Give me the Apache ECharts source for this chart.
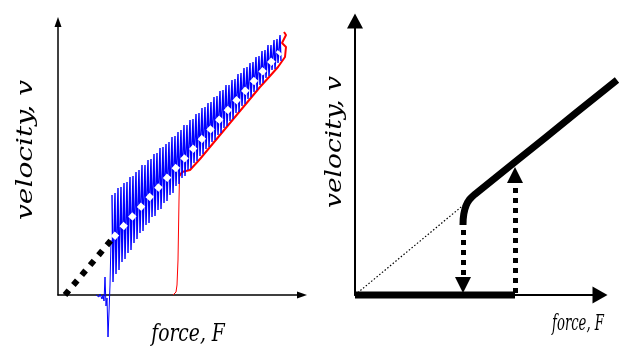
<!DOCTYPE html>
<html>
<head>
<meta charset="utf-8">
<script src="https://cdn.jsdelivr.net/npm/echarts@6/dist/echarts.min.js"></script>
<style>
  html, body { margin: 0; background: #fff; }
  #chart { width: 621px; height: 350px; }
</style>
</head>
<body>
<div id="chart"></div>
<script>
// left panel: simulated force / velocity (arbitrary units)
const leftDiagOuter = [[0.7, 0], [5.5, 5.7]];
const leftDiagInner = [[5.5, 5.7], [22.2, 24.3]];
const blueLead = [
  [3.8, 0], [4.1, -0.2], [4.2, 0.1], [4.4, -0.4], [4.5, 0], [4.6, -0.6], [4.7, 1.8],
  [4.8, -1.1], [4.9, -0.3], [5.0, -4.2], [5.1, -1.7], [5.2, 1.0], [5.3, 5.5]
];
// stick-slip teeth: peak then drop
const blueTrace = [
  [5.4, 10.0], [5.5, 1.3], [5.7, 10.2], [5.8, 2.1], [6.0, 10.7], [6.1, 2.5],
  [6.3, 10.8], [6.4, 3.3], [6.6, 11.2], [6.7, 3.6], [6.9, 11.3], [7.0, 4.2],
  [7.2, 11.8], [7.3, 4.5], [7.5, 11.9], [7.6, 5.2], [7.8, 12.3], [7.9, 5.6],
  [8.1, 12.5], [8.2, 6.2], [8.4, 13.0], [8.5, 6.4], [8.7, 13.0], [8.8, 7.0],
  [9.0, 13.5], [9.1, 7.2], [9.3, 13.6], [9.4, 7.8], [9.6, 14.1], [9.7, 7.9],
  [9.9, 14.2], [10.0, 8.5], [10.2, 14.7], [10.3, 8.6], [10.5, 14.8], [10.6, 9.2],
  [10.8, 15.1], [10.9, 9.4], [11.1, 15.3], [11.2, 10.0], [11.4, 15.8], [11.5, 10.2],
  [11.7, 15.9], [11.8, 10.9], [12.0, 16.3], [12.1, 11.1], [12.3, 16.5], [12.4, 11.7],
  [12.6, 17.0], [12.7, 11.9], [12.9, 17.0], [13.0, 12.5], [13.2, 17.5], [13.3, 12.7],
  [13.5, 17.6], [13.6, 13.2], [13.8, 18.1], [13.9, 13.4], [14.1, 18.2], [14.2, 13.9],
  [14.4, 18.7], [14.5, 14.1], [14.7, 18.8], [14.8, 14.6], [15.0, 19.2], [15.1, 14.8],
  [15.3, 19.3], [15.4, 15.3], [15.6, 19.8], [15.7, 15.5], [15.9, 19.9], [16.0, 16.0],
  [16.2, 20.4], [16.3, 16.2], [16.5, 20.5], [16.6, 16.7], [16.8, 21.0], [16.9, 16.9],
  [17.1, 21.0], [17.2, 17.4], [17.4, 21.5], [17.5, 17.6], [17.7, 21.6], [17.8, 18.2],
  [18.0, 22.1], [18.1, 18.3], [18.3, 22.2], [18.4, 18.9], [18.6, 22.7], [18.7, 19.1],
  [18.9, 22.8], [19.0, 19.6], [19.2, 23.2], [19.3, 19.8], [19.5, 23.3], [19.6, 20.3],
  [19.8, 23.8], [19.9, 20.5], [20.1, 23.9], [20.2, 21.0], [20.4, 24.4], [20.5, 21.2],
  [20.7, 24.5], [20.8, 21.7], [21.0, 25.0], [21.1, 21.9], [21.3, 25.0], [21.4, 22.5],
  [21.6, 25.5], [21.7, 22.6], [21.9, 25.6], [22.0, 23.2], [22.2, 26.0], [22.3, 23.4]
];
const redRise = [[11.5, 0], [11.8, 0.3], [11.9, 1.0], [12.0, 3.5], [12.05, 6.5], [12.1, 9.5], [12.15, 11.9]];
const redEdge = [
  [12.15, 11.9], [12.4, 12.3], [13.2, 12.5], [14.2, 13.6], [15.2, 14.8], [16.2, 16.0],
  [17.2, 17.2], [18.2, 18.4], [19.2, 19.6], [20.2, 20.8], [21.2, 21.9], [22.0, 22.8],
  [22.7, 23.8], [22.8, 24.8], [22.4, 25.2], [22.8, 26.0], [22.6, 26.3]
];

// right panel: schematic hysteresis
const rightFloor = [[0, 0], [16.0, 0]];
const rightDotted = [[0, 0], [12.3, 10.2]];
const rightCurve = [
  [10.8, 7.0], [10.82, 7.6], [10.88, 8.1], [10.98, 8.55], [11.1, 8.92], [11.25, 9.25],
  [11.45, 9.55], [11.7, 9.82], [12.0, 10.08], [12.4, 10.4], [16.0, 13.3], [19.0, 15.7],
  [22.2, 18.3], [26.2, 21.5]
];
const dropArrow = [[10.8, 6.5], [10.8, 1.0]];
const jumpArrow = [[16.0, 0.2], [16.0, 12.0]];

const chart = echarts.init(document.getElementById('chart'));

function axis(gridIndex, max, lineWidth, arrow) {
  return {
    type: 'value', gridIndex: gridIndex, min: 0, max: max,
    axisLine: {
      show: true, onZero: false,
      symbol: ['none', 'triangle'], symbolSize: arrow,
      lineStyle: { color: '#000', width: lineWidth }
    },
    axisTick: { show: false },
    axisLabel: { show: false },
    splitLine: { show: false }
  };
}

// the source figure is stretched, so text gets a scale along its own direction
function label(text, x, y, size, rotate, stretch) {
  return {
    type: 'text', x: x, y: y, rotation: rotate ? Math.PI / 2 : 0, scaleX: stretch,
    style: {
      text: text, fill: '#000', fontSize: size, fontStyle: 'italic',
      fontFamily: 'DejaVu Serif', align: 'center', verticalAlign: 'middle'
    }
  };
}

const option = {
  backgroundColor: '#fff',
  animation: false,
  grid: [
    { left: 58, top: 22, width: 244, height: 273 },
    { left: 355, top: 21, width: 245, height: 274 }
  ],
  xAxis: [axis(0, 24.4, 1.5, [7, 10]), axis(1, 24.5, 2, [17, 15])],
  yAxis: [axis(0, 27.3, 1.5, [7, 10]), axis(1, 27.4, 2, [16, 15])],
  graphic: [
    label('velocity, v', 26, 150, 23, true, 1.22),
    label('force, F', 188, 335, 24, false, 0.78),
    label('velocity, v', 335, 142, 23, true, 1.15),
    label('force, F', 578, 324, 22, false, 0.6)
  ],
  series: [
    {
      type: 'line', xAxisIndex: 0, yAxisIndex: 0, data: redRise, clip: false,
      showSymbol: false, lineStyle: { color: '#ff0000', width: 1 }
    },
    {
      type: 'line', xAxisIndex: 0, yAxisIndex: 0, data: redEdge, clip: false,
      showSymbol: false, lineStyle: { color: '#ff0000', width: 2 }
    },
    {
      type: 'line', xAxisIndex: 0, yAxisIndex: 0, data: blueLead, clip: false,
      showSymbol: false, lineStyle: { color: '#0000ff', width: 1 }
    },
    {
      type: 'line', xAxisIndex: 0, yAxisIndex: 0, data: blueTrace, clip: false,
      showSymbol: false, lineStyle: { color: '#0000ff', width: 1.4 }
    },
    {
      type: 'line', xAxisIndex: 0, yAxisIndex: 0, data: leftDiagOuter,
      showSymbol: false, lineStyle: { color: '#000', width: 6, type: [6, 7] }
    },
    {
      type: 'line', xAxisIndex: 0, yAxisIndex: 0, data: leftDiagInner,
      showSymbol: false, lineStyle: { color: '#fff', width: 6, type: [6, 7] }
    },
    {
      type: 'line', xAxisIndex: 1, yAxisIndex: 1, data: rightDotted,
      showSymbol: false, lineStyle: { color: '#000', width: 1.2, type: [1.5, 2] }
    },
    {
      type: 'line', xAxisIndex: 1, yAxisIndex: 1, data: rightFloor, clip: false,
      showSymbol: false, lineStyle: { color: '#000', width: 7, cap: 'butt' }
    },
    {
      // lines series so the curve may run past the end of the axis
      type: 'lines', coordinateSystem: 'cartesian2d', xAxisIndex: 1, yAxisIndex: 1,
      polyline: true, clip: false,
      lineStyle: { color: '#000', width: 7, opacity: 1, join: 'round', cap: 'butt' },
      data: [{ coords: rightCurve }]
    },
    {
      type: 'lines', coordinateSystem: 'cartesian2d', xAxisIndex: 1, yAxisIndex: 1,
      symbol: ['none', 'triangle'], symbolSize: [14, 16],
      lineStyle: { color: '#000', width: 5, type: [5, 5], opacity: 1, curveness: 0 },
      data: [{ coords: dropArrow }, { coords: jumpArrow }]
    }
  ]
};
chart.setOption(option);
</script>
</body>
</html>
